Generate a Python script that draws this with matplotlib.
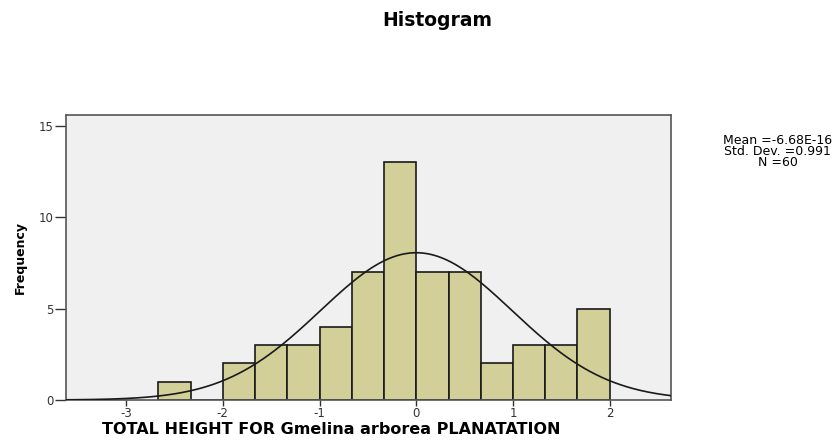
import numpy as np
import matplotlib
matplotlib.use('Agg')
import matplotlib.pyplot as plt

plt.rcParams['font.family'] = ['DejaVu Sans']
plt.rcParams['axes.unicode_minus'] = False

# bin edges (standardised values) and counts
bin_edges = np.arange(-8, 7) / 3.0
counts = [1, 0, 2, 3, 3, 4, 7, 13, 7, 7, 2, 3, 3, 5]
mean = -6.68e-16
sd = 0.991
n = 60
xticks = [-3, -2, -1, 0, 1, 2]
yticks = [0, 5, 10, 15]

fig = plt.figure(figsize=(8.39, 4.43), dpi=100)
ax = fig.add_axes([0.0787, 0.0971, 0.7207, 0.6433])
ax.set_facecolor('#F0F0F0')

width = bin_edges[1] - bin_edges[0]
ax.bar(bin_edges[:-1], counts, width=width, align='edge',
       color='#D3CF98', edgecolor='#1a1a1a', linewidth=1.2, zorder=2)

# normal curve scaled to the histogram
xs = np.linspace(-3.62, 2.63, 400)
ys = n * width * np.exp(-0.5 * ((xs - mean) / sd) ** 2) / (sd * np.sqrt(2 * np.pi))
ax.plot(xs, ys, color='#1a1a1a', linewidth=1.2, zorder=3)

ax.set_xlim(-3.62, 2.63)
ax.set_ylim(0, 15.58)
ax.set_xticks(xticks)
ax.set_yticks(yticks)
ax.tick_params(axis='y', length=8, width=1, colors='#333333', labelsize=8.5, pad=1)
ax.tick_params(axis='x', length=4, width=1, colors='#333333', labelsize=8.5, pad=1)
for s in ax.spines.values():
    s.set_color('#555555')
    s.set_linewidth(1.2)

fig.text(0.521, 0.953, 'Histogram', ha='center', va='center',
         fontsize=13.5, fontweight='bold')
fig.text(0.3945, 0.0205, 'TOTAL HEIGHT FOR Gmelina arborea PLANATATION',
         ha='center', va='baseline', fontsize=11.5, fontweight='bold')
fig.text(0.024, 0.419, 'Frequency', ha='center', va='center',
         rotation=90, fontsize=9, fontweight='bold')
fig.text(0.927, 0.659, 'Mean =-6.68E-16\nStd. Dev. =0.991\nN =60',
         ha='center', va='center', fontsize=9, linespacing=0.8)

fig.savefig('out.png', dpi=100)
